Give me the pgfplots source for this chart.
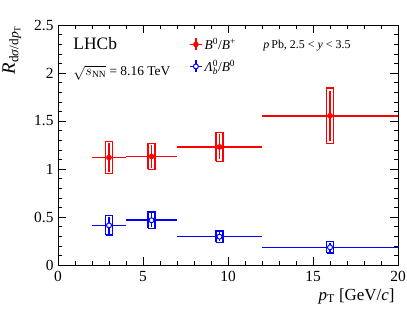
\documentclass[border=0pt]{standalone}
\usepackage{fontspec}
\setmainfont{Liberation Serif}
\usepackage{pgfplots}
\pgfplotsset{compat=1.18}
\usetikzlibrary{calc}

\definecolor{rootred}{RGB}{255,0,0}
\definecolor{rootblue}{RGB}{0,0,255}

% x  y  ex  stat
\pgfplotstableread{
x    y      ex   ey
3    1.120  1.0  0.150
5.5  1.130  1.5  0.120
9.5  1.230  2.5  0.130
16   1.555  4.0  0.260
}\bplus
\pgfplotstableread{
x    y      ex   ey
3    0.413  1.0  0.090
5.5  0.466  1.5  0.075
9.5  0.295  2.5  0.050
16   0.184  4.0  0.045
}\lamb

\pgfplotsset{
  syst/.style={line width=1.3bp, mark=none, forget plot, line join=miter},
}
\newcommand{\scr}[1]{\mbox{\fontsize{9.5}{10}\selectfont #1}}

\begin{document}
\begin{tikzpicture}
\begin{axis}[
  scale only axis,
  width=340bp, height=240bp,
  xmin=0, xmax=20, ymin=0, ymax=2.5,
  xtick={0,5,10,15,20}, ytick={0,0.5,1,1.5,2,2.5},
  minor x tick num=4, minor y tick num=4,
  tick align=inside, tick pos=both,
  xticklabel pos=lower, yticklabel pos=left,
  major tick length=8bp, minor tick length=4.5bp,
  axis line style={line width=0.9pt}, tick style={line width=0.6pt, black},
  /pgf/number format/assume math mode=true,
  ticklabel style={font=\fontsize{15.5}{17}\selectfont},
  xticklabel style={yshift=-3bp},
  yticklabel style={/pgf/number format/fixed, /pgf/number format/precision=1, xshift=-1bp},
  xlabel={\textit{p}\textsubscript{T} [GeV/\textit{c}]},
  xlabel style={at={(axis description cs:1,0)}, anchor=base east, yshift=-35bp,
                font=\fontsize{17}{19}\selectfont},
  ylabel={\textit{R}\textsubscript{d\textit{σ}/d\textit{p}\textsubscript{T}}},
  ylabel style={at={(axis description cs:-0.1265,1.0125)}, anchor=base east,
                font=\fontsize{19}{21}\selectfont},
  legend style={draw=none, fill=none, at={(axis description cs:0.385,0.955)},
                anchor=north west, font=\fontsize{13.5}{15}\selectfont,
                row sep=5bp, inner sep=0pt},
  legend cell align=left,
  clip=false,
]

% systematic boxes, B0/B+
\addplot[rootred, syst] coordinates {(2.8,0.950) (3.2,0.950) (3.2,1.290) (2.8,1.290) (2.8,0.950)};
\addplot[rootred, syst] coordinates {(5.3,0.995) (5.7,0.995) (5.7,1.265) (5.3,1.265) (5.3,0.995)};
\addplot[rootred, syst] coordinates {(9.3,1.080) (9.7,1.080) (9.7,1.380) (9.3,1.380) (9.3,1.080)};
\addplot[rootred, syst] coordinates {(15.8,1.265) (16.2,1.265) (16.2,1.845) (15.8,1.845) (15.8,1.265)};
% systematic boxes, Lb/B0
\addplot[rootblue, syst] coordinates {(2.8,0.313) (3.2,0.313) (3.2,0.513) (2.8,0.513) (2.8,0.313)};
\addplot[rootblue, syst] coordinates {(5.3,0.381) (5.7,0.381) (5.7,0.551) (5.3,0.551) (5.3,0.381)};
\addplot[rootblue, syst] coordinates {(9.3,0.235) (9.7,0.235) (9.7,0.355) (9.3,0.355) (9.3,0.235)};
\addplot[rootblue, syst] coordinates {(15.8,0.124) (16.2,0.124) (16.2,0.244) (15.8,0.244) (15.8,0.124)};

\addplot[rootred, only marks, mark=*, mark size=2.6pt, mark options={fill=rootred},
  legend image code/.code={
    \draw[rootred, line width=1.6bp] (0.3cm-6bp,0)--(0.3cm+6bp,0) (0.3cm,-6bp)--(0.3cm,6bp);
    \fill[rootred] (0.3cm,0) circle (2.6pt);},
  error bars/.cd, x dir=both, x explicit, y dir=both, y explicit,
  error mark=none, error bar style={line width=1.6bp, rootred, solid}]
  table[x=x, y=y, x error=ex, y error=ey] {\bplus};
\addlegendentry{\textit{B}\textsuperscript{0}/\textit{B}\textsuperscript{+}}

\addplot[rootblue, only marks, mark=*, mark size=2.5pt, mark options={fill=white, line width=1bp},
  legend image code/.code={
    \draw[rootblue, line width=1.6bp] (0.3cm-6bp,0)--(0.3cm+6bp,0) (0.3cm,-6bp)--(0.3cm,6bp);
    \filldraw[rootblue, fill=white, line width=1bp] (0.3cm,0) circle (2.5pt);},
  error bars/.cd, x dir=both, x explicit, y dir=both, y explicit,
  error mark=none, error bar style={line width=1.6bp, rootblue, solid}]
  table[x=x, y=y, x error=ex, y error=ey] {\lamb};
\addlegendentry{\textit{Λ}$^{\scr{0}}_{\scr{\itshape b}}$/\textit{B}\textsuperscript{0}}

\node[anchor=base west, font=\fontsize{17.5}{20}\selectfont, inner sep=0pt] at (axis cs:0.9,2.24) {LHCb};
\node[anchor=base west, font=\fontsize{13.5}{15}\selectfont, inner sep=0pt] at (axis cs:0.9,1.975)
  {$\sqrt{s_{\mathrm{NN}}}$ = 8.16 TeV};
\node[anchor=base west, font=\fontsize{12}{14}\selectfont, inner sep=0pt] at (axis cs:12.07,2.25)
  {\textit{p}\,Pb, 2.5 < \textit{y} < 3.5};
\end{axis}
\pgfresetboundingbox
\useasboundingbox ($(current axis.south west)+(-58bp,-57bp)$) rectangle ($(current axis.north east)+(9bp,25bp)$);
\end{tikzpicture}
\end{document}
